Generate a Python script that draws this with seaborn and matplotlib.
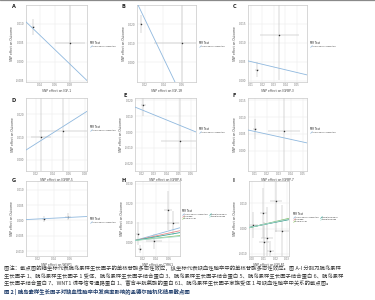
import numpy as np
import pandas as pd
import seaborn as sns
import matplotlib
matplotlib.use("Agg")
import matplotlib.pyplot as plt
from matplotlib.lines import Line2D

sns.set_theme(style="whitegrid")
plt.rcParams['font.family'] = ['Noto Sans CJK SC', 'DejaVu Sans']

# ---------------- data ----------------
panel_labels = ["A", "B", "C", "D", "E", "F", "G", "H", "I"]
exposures = ["IGF-1", "IGF-1R", "IGFBP-3", "IGFBP-5", "IGFBP-6", "IGFBP-7",
             "WISP1", "CYR61", "IGFLR1"]
y_label = "SNP effect on Outcome"

x_lims = [(0.0213, 0.1027), (0.0114, 0.0751), (0.0074, 0.0587),
          (0.0077, 0.0825), (0.0143, 0.0641), (0.0042, 0.0533),
          (0.0050, 0.0813), (0.0077, 0.0769), (-0.0026, 0.0316)]
y_lims = [(-0.0053, 0.0150), (-0.0105, 0.0300), (-0.0003, 0.0200),
          (-0.0048, 0.0270), (-0.0244, 0.0213), (-0.0059, 0.0156),
          (-0.0116, 0.0129), (-0.0070, 0.0315), (-0.0108, 0.0188)]
x_ticks = [[0.04, 0.06, 0.08], [0.02, 0.04, 0.06], [0.01, 0.02, 0.03, 0.04, 0.05],
           [0.02, 0.04, 0.06, 0.08], [0.02, 0.03, 0.04, 0.05, 0.06],
           [0.01, 0.02, 0.03, 0.04, 0.05], [0.02, 0.04, 0.06],
           [0.02, 0.04, 0.06], [0.00, 0.01, 0.02, 0.03]]
y_ticks = [[-0.005, 0.000, 0.005, 0.010], [0.00, 0.01, 0.02],
           [0.000, 0.005, 0.010, 0.015], [0.00, 0.01, 0.02],
           [-0.02, -0.01, 0.00, 0.01, 0.02], [0.000, 0.005, 0.010, 0.015],
           [-0.010, -0.005, 0.000, 0.005, 0.010], [0.00, 0.01, 0.02, 0.03],
           [-0.01, 0.00, 0.01]]

pts_x = [[0.0307, 0.0800], [0.0157, 0.0600], [0.0152, 0.0344],
         [0.0261, 0.0531], [0.0209, 0.0512], [0.0100, 0.0342],
         [0.0275, 0.0575], [0.0123, 0.0154, 0.0369, 0.0585, 0.0662],
         [0.0009, 0.0094, 0.0103, 0.0128, 0.0205, 0.0256, 0.0154]]
pts_y = [[0.0092, 0.0050], [0.0200, 0.0100], [0.0029, 0.0121],
         [0.0100, 0.0126], [0.0169, -0.0056], [0.0065, 0.0059],
         [0.0006, 0.0013], [0.0045, -0.0035, 0.0005, 0.0165, 0.0100],
         [0.0015, 0.0062, -0.0054, -0.0035, 0.0108, -0.0008, -0.0088]]
pts_xerr = [[0.003, 0.020], [0.001, 0.030], [0.002, 0.017],
            [0.012, 0.030], [0.002, 0.016], [0.002, 0.013],
            [0.003, 0.004], [0.003, 0.003, 0.012, 0.006, 0.009],
            [0.004, 0.003, 0.004, 0.005, 0.005, 0.006, 0.003]]
pts_yerr = [[0.002, 0.012], [0.0047, 0.030], [0.002, 0.012],
            [0.020, 0.018], [0.007, 0.030], [0.003, 0.020],
            [0.001, 0.001], [0.006, 0.002, 0.004, 0.010, 0.006],
            [0.005, 0.010, 0.008, 0.012, 0.012, 0.010, 0.004]]

methods5 = ["Inverse variance weighted", "MR Egger", "Simple mode",
            "Weighted median", "Weighted mode"]
method_colors = ["#8fb8de", "#e88a8a", "#8cc56a", "#3aa89a", "#a8dcd0"]
# slopes / intercepts of MR fits (one per method)
line_slopes = [[-0.190], [-1.015], [-0.072], [0.2255], [-0.313], [-0.0774],
               [0.013], [0.094, 0.072, 0.036, 0.058, 0.030],
               [0.100, 0.095, 0.110, 0.090, 0.100]]
line_intercepts = [[0.0146], [0.0427], [0.0058], [0.0026], [0.0201], [0.0065],
                   [0.00024], [0.00028, 0.00045, 0.00072, 0.00055, 0.00077],
                   [0.00066, 0.0007, 0.0006, 0.0007, 0.00066]]

caption_lines = [
    "图注：散点图的横坐标代表胰岛素样生长因子的单核苷酸多态性效应，纵坐标代表缺血性脑卒中的单核苷酸多态性效应。图 A-I 分别为胰岛素样",
    "生长因子 1、胰岛素样生长因子 1 受体、胰岛素样生长因子结合蛋白 3、胰岛素样生长因子结合蛋白 5、胰岛素样生长因子结合蛋白 6、胰岛素样",
    "生长因子结合蛋白 7、WNT1 诱导信号通路蛋白 1、富含半胱氨酸的蛋白 61、胰岛素样生长因子家族受体 1 与缺血性脑卒中关系的散点图。",
]
fig_title = "图 2 | 胰岛素样生长因子对缺血性脑卒中发病率影响的孟德尔随机化结果散点图"

# ---------------- layout ----------------
W, H = 375, 300
fig = plt.figure(figsize=(W / 100, H / 100), dpi=100)
fig.patch.set_facecolor("white")

def rect(x0, y0, x1, y1):
    return [x0 / W, 1 - y1 / H, (x1 - x0) / W, (y1 - y0) / H]

ax_boxes = [(26, 5, 87, 82), (137, 5, 196, 82), (248, 5, 307, 82),
            (26, 98, 87, 171), (135, 98, 196, 171), (248, 98, 307, 171),
            (26, 181, 87, 256), (135, 181, 180, 256), (249, 181, 289, 256)]
label_pos = [(12, 4), (122, 4), (233, 4), (12, 98), (124, 93), (233, 93),
             (12, 178), (122, 178), (233, 178)]
legend_pos = [(89, 44), (198, 44), (309, 44), (89, 128), (198, 130), (309, 130),
              (89, 220), (181, 214), (292, 217)]

latin = ["DejaVu Sans"]
fs_tick = 2.0
for i in range(9):
    ax = fig.add_axes(rect(*ax_boxes[i]))
    ax.set_facecolor("white")
    ax.set_xlim(*x_lims[i])
    ax.set_ylim(*y_lims[i])
    ax.errorbar(pts_x[i], pts_y[i], xerr=pts_xerr[i], yerr=pts_yerr[i],
                fmt="none", ecolor="#b0b0b0", elinewidth=0.35, capsize=0, zorder=2)
    sns.scatterplot(x=pts_x[i], y=pts_y[i], ax=ax, color="#333333", s=1.2,
                    linewidth=0, zorder=3)
    nm = len(line_slopes[i])
    xs = np.array(x_lims[i])
    handles = []
    for k in range(nm):
        df = pd.DataFrame({"x": xs, "y": line_intercepts[i][k] + line_slopes[i][k] * xs})
        sns.lineplot(data=df, x="x", y="y", ax=ax, color=method_colors[k],
                     linewidth=0.6, zorder=4)
        handles.append(Line2D([], [], linestyle="", marker=(2, 0, -45),
                              markersize=2.0, markeredgewidth=0.5,
                              color=method_colors[k], label=methods5[k]))
    ax.set_xticks(x_ticks[i])
    ax.set_yticks(y_ticks[i])
    ax.set_xticklabels([f"{v:.2f}" for v in x_ticks[i]], family=latin)
    ax.set_yticklabels([f"{v:.3f}" for v in y_ticks[i]], family=latin)
    ax.tick_params(labelsize=fs_tick, colors="#777777", length=0, pad=1)
    ax.grid(True, color="#e6e6e6", linewidth=0.3)
    for s in ax.spines.values():
        s.set_color("#c8c8c8")
        s.set_linewidth(0.5)
    ax.set_xlabel("SNP effect on " + exposures[i], fontsize=2.2, color="#444444",
                  labelpad=1, family=latin)
    ax.set_ylabel(y_label, fontsize=2.2, color="#444444", labelpad=1.5, family=latin)
    fig.text(label_pos[i][0] / W, 1 - label_pos[i][1] / H, panel_labels[i],
             fontsize=3.6, fontweight="bold", color="#222222", va="top", ha="left",
             family=latin)
    multi = nm > 1
    leg = ax.legend(handles=handles, title="MR Test", loc="center left",
                    bbox_to_anchor=(legend_pos[i][0] / W, 1 - legend_pos[i][1] / H),
                    bbox_transform=fig.transFigure, frameon=False,
                    prop={"family": latin, "size": 1.25},
                    title_fontproperties={"family": latin, "size": 1.9},
                    ncol=2 if multi else 1,
                    handlelength=0.9, handletextpad=0.4, labelspacing=0.35,
                    columnspacing=0.8, borderpad=0.1)
    leg._legend_box.align = "left"

# top grey strip
fig.add_artist(Line2D([0, 1], [1 - 0.4 / H, 1 - 0.4 / H], color="#8a8a8a",
                      linewidth=0.9, transform=fig.transFigure))

# caption
cap_y = [268.5, 276, 283.5]
for yy, line in zip(cap_y, caption_lines):
    fig.text(4 / W, 1 - yy / H, line, fontsize=3.85, color="#333333",
             va="center", ha="left")
fig.text(4 / W, 1 - 291.5 / H, fig_title, fontsize=3.85, color="#1f3d6b",
         fontweight="bold", va="center", ha="left")

fig.savefig("out.png", dpi=100, facecolor="white")
